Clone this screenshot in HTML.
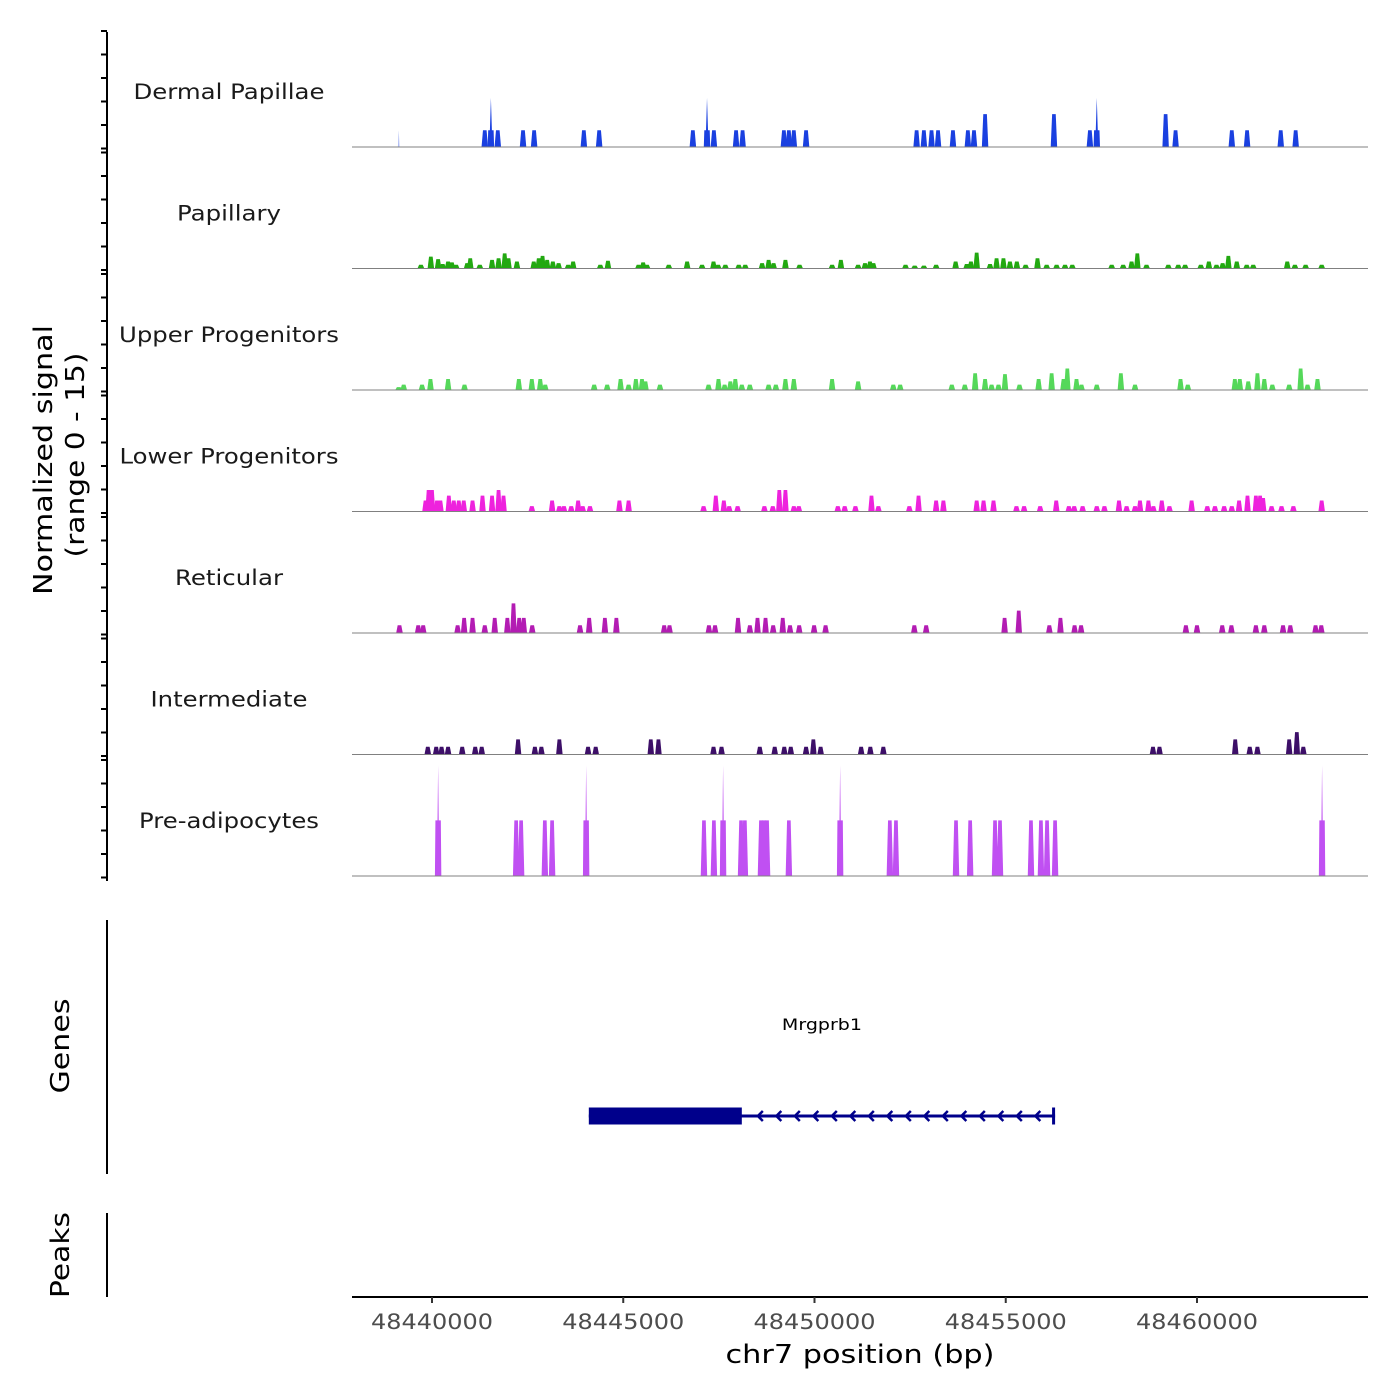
<!DOCTYPE html>
<html><head><meta charset="utf-8"><style>
body{margin:0;background:#fff}
svg{display:block;font-family:"DejaVu Sans","Liberation Sans",sans-serif}
</style></head><body>
<svg id="chart" width="1400" height="1400" viewBox="0 0 1400 1400" xmlns="http://www.w3.org/2000/svg">
<g id="tracks"></g>
<g id="leftaxis"></g>
<text transform="translate(52,460) rotate(-90)" text-anchor="middle" font-size="26" textLength="270" lengthAdjust="spacingAndGlyphs" fill="#000">Normalized signal</text>
<text transform="translate(84,455) rotate(-90)" text-anchor="middle" font-size="26" textLength="205" lengthAdjust="spacingAndGlyphs" fill="#000">(range 0 - 15)</text>
<line x1="107" y1="920" x2="107" y2="1174" stroke="#000" stroke-width="2"/>
<text transform="translate(69,1046) rotate(-90)" text-anchor="middle" font-size="26" textLength="95" lengthAdjust="spacingAndGlyphs" fill="#000">Genes</text>
<line x1="107" y1="1213" x2="107" y2="1297" stroke="#000" stroke-width="2"/>
<text transform="translate(69,1255) rotate(-90)" text-anchor="middle" font-size="26" textLength="86" lengthAdjust="spacingAndGlyphs" fill="#000">Peaks</text>
<g id="gene"></g>
<g id="xaxis"></g>
<text x="860" y="1363" text-anchor="middle" font-size="26" textLength="269" lengthAdjust="spacingAndGlyphs" fill="#000">chr7 position (bp)</text>
</svg>
<script>
// positions in kb offset from 48440000 bp; heights in normalized signal units
const trackNames = ["Dermal Papillae","Papillary","Upper Progenitors","Lower Progenitors","Reticular","Intermediate","Pre-adipocytes"];
const trackColors = ["#1a40e0","#22a811","#55d85a","#ee22dd","#b31cb3","#3d0f68","#c050f2"];
const dpPos = [-0.87,1.38,1.54,1.72,2.38,2.67,3.97,4.37,6.82,7.19,7.37,7.95,8.12,9.20,9.33,9.46,9.78,12.67,12.86,13.06,13.23,13.62,14.01,14.17,14.46,16.26,17.20,17.38,19.18,19.44,20.91,21.31,22.19,22.58];
const dpVal = [0.8,2,6,2,2,2,2,2,2,6,2,2,2,2,2,2,2,2,2,2,2,2,2,2,4,4,2,6,4,2,2,2,2,2];
const paPos = [-0.29,-0.03,0.16,0.28,0.42,0.52,0.63,0.92,1.00,1.25,1.57,1.74,1.90,2.00,2.22,2.66,2.79,2.89,3.01,3.16,3.31,3.56,3.69,4.40,4.60,5.40,5.52,5.62,6.19,6.67,7.06,7.36,7.48,7.67,8.02,8.19,8.63,8.80,8.93,9.24,9.61,10.46,10.69,11.14,11.32,11.45,11.54,12.38,12.62,12.86,13.18,13.69,13.98,14.09,14.24,14.59,14.76,14.94,15.11,15.29,15.52,15.83,16.07,16.33,16.55,16.74,17.77,18.07,18.29,18.44,18.68,19.25,19.51,19.69,20.10,20.31,20.51,20.67,20.82,21.04,21.30,21.47,22.36,22.56,22.84,23.26];
const paVal = [0.4,1.4,1.1,0.5,0.8,0.7,0.4,0.6,1.2,0.4,1.0,1.2,1.8,1.2,0.8,0.8,1.2,1.5,1.0,0.8,0.6,0.4,0.8,0.4,0.9,0.4,0.7,0.4,0.4,0.8,0.4,0.8,0.4,0.4,0.4,0.4,0.6,1.0,0.6,1.0,0.4,0.4,1.0,0.4,0.6,0.8,0.6,0.4,0.3,0.3,0.4,0.8,0.5,0.8,1.9,0.5,1.2,1.2,0.8,0.8,0.4,1.2,0.4,0.4,0.4,0.4,0.4,0.4,0.8,1.8,0.4,0.4,0.4,0.4,0.4,0.8,0.4,0.6,1.5,0.8,0.4,0.4,0.8,0.4,0.4,0.4];
const upPos = [-0.87,-0.74,-0.26,-0.04,0.42,0.85,2.27,2.61,2.83,2.96,4.24,4.58,4.93,5.14,5.33,5.49,5.58,5.96,7.23,7.49,7.65,7.80,7.93,8.10,8.31,8.80,8.99,9.24,9.46,10.46,11.14,12.06,12.24,13.59,13.93,14.20,14.46,14.63,14.81,14.98,15.36,15.86,16.20,16.51,16.61,16.85,16.98,17.38,18.01,18.38,19.57,19.76,20.99,21.12,21.34,21.58,21.76,21.97,22.41,22.71,22.89,23.15];
const upVal = [0.3,0.6,0.6,1.3,1.3,0.6,1.3,1.3,1.3,0.6,0.6,0.6,1.3,0.6,1.3,1.3,1.0,0.6,0.6,1.3,0.6,1.0,1.3,0.6,0.6,0.6,0.6,1.3,1.3,1.3,1.0,0.6,0.6,0.6,0.6,2.0,1.3,0.6,0.6,1.9,0.6,1.3,2.0,1.3,2.6,1.3,0.6,0.6,2.0,0.6,1.3,0.6,1.3,1.3,1.0,2.0,1.3,0.6,0.6,2.6,0.6,1.3];
const loPos = [-0.17,-0.09,0,0.13,0.22,0.44,0.57,0.70,0.83,1.06,1.32,1.57,1.74,1.87,2.61,3.14,3.33,3.45,3.64,3.82,3.94,4.13,4.90,5.14,7.10,7.42,7.63,7.77,7.99,8.69,8.91,9.08,9.24,9.46,9.59,10.61,10.79,11.07,11.49,11.67,12.48,12.72,13.18,13.37,14.24,14.42,14.68,15.28,15.48,15.90,16.32,16.65,16.79,17.01,17.38,17.58,17.96,18.16,18.38,18.51,18.73,18.86,19.08,19.28,19.86,20.27,20.47,20.71,20.91,21.10,21.32,21.54,21.65,21.73,21.95,22.21,22.52,23.26];
const loVal = [1.3,2.6,2.6,1.3,1.3,1.9,1.3,1.3,1.3,1.3,1.9,1.9,2.6,1.9,0.6,1.3,0.6,0.6,0.6,1.3,0.6,0.6,1.3,1.3,0.6,1.9,1.3,0.6,0.6,0.6,0.6,2.6,2.6,0.6,0.6,0.6,0.6,0.6,1.9,0.6,0.6,1.9,1.3,1.3,1.3,1.3,1.3,0.6,0.6,0.6,1.3,0.6,0.6,0.6,0.6,0.6,1.3,0.6,0.6,1.3,1.3,0.6,1.3,0.6,1.3,0.6,0.6,0.6,0.6,1.3,1.9,1.9,1.9,1.6,0.6,0.6,0.6,1.3];
const rePos = [-0.85,-0.36,-0.23,0.67,0.84,1.06,1.38,1.64,1.97,2.13,2.28,2.40,2.62,3.87,4.11,4.52,4.82,6.07,6.21,7.24,7.40,8.00,8.31,8.51,8.72,8.92,9.17,9.36,9.60,9.99,10.29,12.61,12.92,14.97,15.34,16.14,16.43,16.80,16.97,19.71,20.00,20.66,20.90,21.54,21.76,22.25,22.44,23.10,23.25];
const reVal = [0.9,0.9,0.9,0.9,1.8,1.8,0.9,1.8,1.8,3.6,1.8,1.8,0.9,0.9,1.8,1.8,1.8,0.9,0.9,0.9,0.9,1.8,0.9,1.8,1.8,0.9,1.8,0.9,0.9,0.9,0.9,0.9,0.9,1.8,2.7,0.9,1.8,0.9,0.9,0.9,0.9,0.9,0.9,0.9,0.9,0.9,0.9,0.9,0.9];
const inPos = [-0.11,0.11,0.25,0.42,0.79,1.13,1.30,2.25,2.69,2.86,3.33,4.08,4.28,5.72,5.92,7.36,7.57,8.57,8.96,9.21,9.38,9.78,9.97,10.16,11.22,11.46,11.80,18.85,19.02,21.00,21.38,21.58,22.41,22.61,22.78];
const inVal = [0.9,0.9,0.9,0.9,0.9,0.9,0.9,1.8,0.9,0.9,1.8,0.9,0.9,1.8,1.8,0.9,0.9,0.9,0.9,0.9,0.9,0.9,1.8,0.9,0.9,0.9,0.9,0.9,0.9,1.8,0.9,0.9,1.8,2.7,0.9];
const prPos = [0.16,2.20,2.33,2.95,3.14,4.03,7.11,7.37,7.61,8.08,8.18,8.60,8.68,8.76,9.33,10.67,11.97,12.13,13.70,14.07,14.72,14.85,15.66,15.92,16.08,16.29,23.27];
const prVal = [13.6,6.8,6.8,6.8,6.8,13.6,6.8,6.8,13.6,6.8,6.8,6.8,6.8,6.8,6.8,13.6,6.8,6.8,6.8,6.8,6.8,6.8,6.8,6.8,6.8,6.8,13.6];
const xTickKb = [0,5,10,15,20];
const xTickLabels = ["48440000","48445000","48450000","48455000","48460000"];
const geneStartKb = 4.10, geneThickEndKb = 8.10, geneEndKb = 16.29;
const geneName = "Mrgprb1";

const NS = "http://www.w3.org/2000/svg";
const X0 = 352, X1 = 1368, KB0 = -2.0915, KB1 = 24.471;
function xs(kb){ return X0 + (kb - KB0) / (KB1 - KB0) * (X1 - X0); }
const trackTop0 = 25, trackH = 121.5, signalMax = 15;
function ys(t, v){ const base = trackTop0 + trackH*(t+1); return base - v / signalMax * trackH; }
function mk(tag, attrs, parent){ const e = document.createElementNS(NS, tag); for (const k in attrs) e.setAttribute(k, attrs[k]); parent.appendChild(e); return e; }
const labelWidths = [191, 104, 220, 219, 108, 157, 180];

const allPos = [dpPos,paPos,upPos,loPos,rePos,inPos,prPos];
const allVal = [dpVal,paVal,upVal,loVal,reVal,inVal,prVal];
const tg = document.getElementById('tracks');
for (let t=0;t<7;t++){
  const g = mk('g', {}, tg);
  
  
  const lab = mk('text', {x:229, y: trackTop0 + trackH*t + 74, 'text-anchor':'middle', 'font-size':21, textLength: labelWidths[t], lengthAdjust:'spacingAndGlyphs', fill:'#1a1a1a'}, g);
  
  
  lab.textContent = trackNames[t];
  const base = ys(t,0);
  const pos = allPos[t], val = allVal[t];
  for (let i=0;i<pos.length;i++){
    const cx = xs(pos[i]), v = val[i];
    const hw = 3.2, tw = 1.8;
    let pts;
    const top = ys(t,v);
    if (t===6 && v>10){
      const mid = ys(t,6.8);
      pts = `${cx-hw},${base} ${cx-hw+0.5},${mid} ${cx-0.6},${mid} ${cx},${top} ${cx+0.6},${mid} ${cx+hw-0.5},${mid} ${cx+hw},${base}`;
    } else if (t===0 && v>=6){
      const mid = ys(t,2);
      pts = `${cx-hw},${base} ${cx-hw+0.5},${mid} ${cx-1},${mid} ${cx},${top} ${cx+1},${mid} ${cx+hw-0.5},${mid} ${cx+hw},${base}`;
    } else if (t===0 && v<1){
      pts = `${cx-0.8},${base} ${cx},${ys(t,2)} ${cx+0.8},${base}`;
    } else {
      pts = `${cx-hw},${base} ${cx-tw},${top} ${cx+tw},${top} ${cx+hw},${base}`;
    }
    const p = mk('polygon', {points: pts, fill: trackColors[t]}, g);
    if (t===0 && v<1) p.setAttribute('fill-opacity','0.35');
    
    
  }
  const bl = mk('line', {x1:X0, x2:X1, y1:base+0.5, y2:base+0.5, stroke:'#808080', 'stroke-width':1}, g);
  
  
}

// left axis
const la = document.getElementById('leftaxis');
const al = mk('line', {x1:107, x2:107, y1:32, y2:881, stroke:'#000', 'stroke-width':2}, la);


for (let t=0;t<7;t++){
  for (let k=0;k<6;k++){
    const y = trackTop0 + 6 + trackH*t + k*23.5;
    const tk = mk('line', {x1:101, x2:107, y1:y, y2:y, stroke:'#000', 'stroke-width':2}, la);
    
    
  }
}

// gene
const gg = document.getElementById('gene');
const gy = 1116;
const gl = mk('line', {x1:xs(geneStartKb), x2:xs(geneEndKb), y1:gy, y2:gy, stroke:'#00008b', 'stroke-width':3}, gg);


const gb = mk('rect', {x:xs(geneStartKb), y:gy-8.5, width:xs(geneThickEndKb)-xs(geneStartKb), height:17, fill:'#00008b'}, gg);


const ge = mk('rect', {x:xs(geneEndKb)-3, y:gy-8.5, width:3, height:17, fill:'#00008b'}, gg);


for (let ax = xs(geneThickEndKb)+17; ax < xs(geneEndKb)-4; ax += 18.5){
  const a = mk('polyline', {points:`${ax+4},${gy-5} ${ax-1},${gy} ${ax+4},${gy+5}`, fill:'none', stroke:'#00008b', 'stroke-width':2.5}, gg);
  
  
}
const gt = mk('text', {x:(xs(geneStartKb)+xs(geneEndKb))/2, y:1030, 'text-anchor':'middle', 'font-size':16, textLength:80, lengthAdjust:'spacingAndGlyphs', fill:'#000'}, gg);


gt.textContent = geneName;

// x axis
const xa = document.getElementById('xaxis');
const xl = mk('line', {x1:X0, x2:X1, y1:1297, y2:1297, stroke:'#000', 'stroke-width':2}, xa);


for (let i=0;i<xTickKb.length;i++){
  const x = xs(xTickKb[i]);
  const tk = mk('line', {x1:x, x2:x, y1:1297, y2:1303, stroke:'#333', 'stroke-width':2}, xa);
  
  
  const tl = mk('text', {x:x, y:1329, 'text-anchor':'middle', 'font-size':21, textLength:122, lengthAdjust:'spacingAndGlyphs', fill:'#4d4d4d'}, xa);
  
  
  tl.textContent = xTickLabels[i];
}
</script>
</body></html>
